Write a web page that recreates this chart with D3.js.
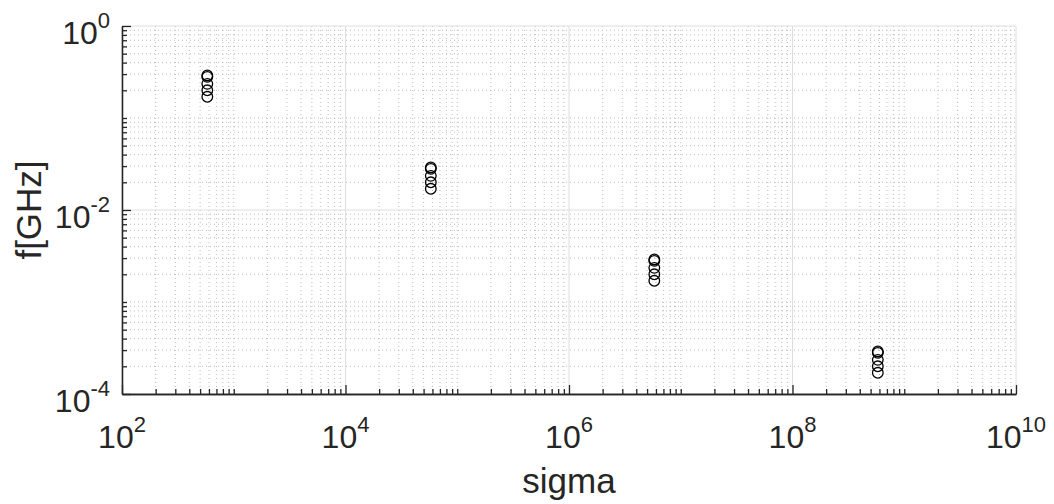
<!DOCTYPE html>
<html>
<head>
<meta charset="utf-8">
<script src="https://cdn.jsdelivr.net/npm/d3@7"></script>
<style>
  body { margin: 0; background: #ffffff; }
  svg { display: block; }
</style>
</head>
<body>
<script>
// data
var sigmaValues = [580, 58000, 5.8e6, 5.8e8];
var fGroup1 = [0.29, 0.28, 0.235, 0.2, 0.17];
var fGroup2 = [0.029, 0.028, 0.0235, 0.02, 0.017];
var fGroup3 = [0.0029, 0.0028, 0.00235, 0.002, 0.0017];
var fGroup4 = [0.00029, 0.00028, 0.000235, 0.0002, 0.00017];
var fGroups = [fGroup1, fGroup2, fGroup3, fGroup4];

var xMajorTicks = [1e2, 1e4, 1e6, 1e8, 1e10];
var xTickExps = ["2", "4", "6", "8", "10"];
var yMajorTicks = [1e-4, 1e-2, 1];
var yTickExps = ["-4", "-2", "0"];

var width = 1054, height = 504;
var plotLeft = 122, plotRight = 1016, plotTop = 26, plotBottom = 394;
var axisColor = "#262626";
var font = "'Liberation Sans', Arial, Helvetica, sans-serif";

var svg = d3.select("body").append("svg")
    .attr("width", width)
    .attr("height", height);

var x = d3.scaleLog().domain([1e2, 1e10]).range([plotLeft, plotRight]);
var y = d3.scaleLog().domain([1e-4, 1]).range([plotBottom, plotTop]);

function isMajor(list, v){
    for(var i = 0; i < list.length; i++){
        if(Math.abs(Math.log10(v) - Math.log10(list[i])) < 1e-9){ return true; }
    }
    return false;
}
var xMinor = x.ticks().filter(function(v){ return !isMajor(xMajorTicks, v); });
var yMinor = y.ticks().filter(function(v){ return !isMajor(yMajorTicks, v); });

//grid, minor dotted first then major solid
var grid = svg.append("g");
grid.selectAll(".xminor").data(xMinor).enter().append("line")
    .attr("x1", function(d){ return x(d); }).attr("x2", function(d){ return x(d); })
    .attr("y1", plotTop).attr("y2", plotBottom)
    .style("stroke", "#bdbdbd").style("stroke-width", 1)
    .style("stroke-dasharray", "1,3");
grid.selectAll(".yminor").data(yMinor).enter().append("line")
    .attr("y1", function(d){ return y(d); }).attr("y2", function(d){ return y(d); })
    .attr("x1", plotLeft).attr("x2", plotRight)
    .style("stroke", "#bdbdbd").style("stroke-width", 1)
    .style("stroke-dasharray", "1,3");
grid.selectAll(".xmajor").data(xMajorTicks).enter().append("line")
    .attr("x1", function(d){ return x(d); }).attr("x2", function(d){ return x(d); })
    .attr("y1", plotTop).attr("y2", plotBottom)
    .style("stroke", "#dedede").style("stroke-width", 1);
grid.selectAll(".ymajor").data(yMajorTicks).enter().append("line")
    .attr("y1", function(d){ return y(d); }).attr("y2", function(d){ return y(d); })
    .attr("x1", plotLeft).attr("x2", plotRight)
    .style("stroke", "#dedede").style("stroke-width", 1);

//axes, ticks pointing inward
function styleAxis(g){
    g.selectAll("path, line").style("stroke", axisColor).style("stroke-width", 1.3);
    g.selectAll("text").remove();
}
svg.append("g").attr("transform", "translate(0," + plotBottom + ")")
    .call(d3.axisBottom(x).tickValues(xMinor).tickSize(-5).tickSizeOuter(0).tickFormat(""))
    .call(styleAxis);
svg.append("g").attr("transform", "translate(0," + plotBottom + ")")
    .call(d3.axisBottom(x).tickValues(xMajorTicks).tickSize(-9).tickSizeOuter(0).tickFormat(""))
    .call(styleAxis);
svg.append("g").attr("transform", "translate(" + plotLeft + ",0)")
    .call(d3.axisLeft(y).tickValues(yMinor).tickSize(-5).tickSizeOuter(0).tickFormat(""))
    .call(styleAxis);
svg.append("g").attr("transform", "translate(" + plotLeft + ",0)")
    .call(d3.axisLeft(y).tickValues(yMajorTicks).tickSize(-9).tickSizeOuter(0).tickFormat(""))
    .call(styleAxis);

//tick labels 10^n
var xl = svg.selectAll(".xlabel").data(xMajorTicks).enter().append("text")
    .attr("x", function(d){ return x(d); })
    .attr("y", plotBottom + 54)
    .attr("text-anchor", "middle")
    .style("font-family", font)
    .style("font-size", "32px")
    .style("fill", axisColor);
xl.append("tspan").text("10");
xl.append("tspan").attr("dy", -16).style("font-size", "22px")
    .text(function(d, i){ return xTickExps[i]; });

var yl = svg.selectAll(".ylabel").data(yMajorTicks).enter().append("text")
    .attr("x", plotLeft - 12)
    .attr("y", function(d){ return y(d) + 18; })
    .attr("text-anchor", "end")
    .style("font-family", font)
    .style("font-size", "32px")
    .style("fill", axisColor);
yl.append("tspan").text("10");
yl.append("tspan").attr("dy", -16).style("font-size", "22px")
    .text(function(d, i){ return yTickExps[i]; });

//axis titles
svg.append("text")
    .attr("x", (plotLeft + plotRight) / 2)
    .attr("y", 493)
    .attr("text-anchor", "middle")
    .style("font-family", font)
    .style("font-size", "35px")
    .style("fill", axisColor)
    .text("sigma");
svg.append("text")
    .attr("transform", "translate(41," + (plotTop + plotBottom) / 2 + ") rotate(-90)")
    .attr("text-anchor", "middle")
    .style("font-family", font)
    .style("font-size", "35px")
    .style("fill", axisColor)
    .text("f[GHz]");

//markers
var points = [];
for(var j = 0; j < sigmaValues.length; j++){
    for(var k = 0; k < fGroups[j].length; k++){
        points.push({s: sigmaValues[j], f: fGroups[j][k]});
    }
}
svg.selectAll("circle").data(points).enter().append("circle")
    .attr("cx", function(d){ return x(d.s); })
    .attr("cy", function(d){ return y(d.f); })
    .attr("r", 5.3)
    .style("fill", "none")
    .style("stroke", "#000000")
    .style("stroke-width", 1.3);
</script>
</body>
</html>
